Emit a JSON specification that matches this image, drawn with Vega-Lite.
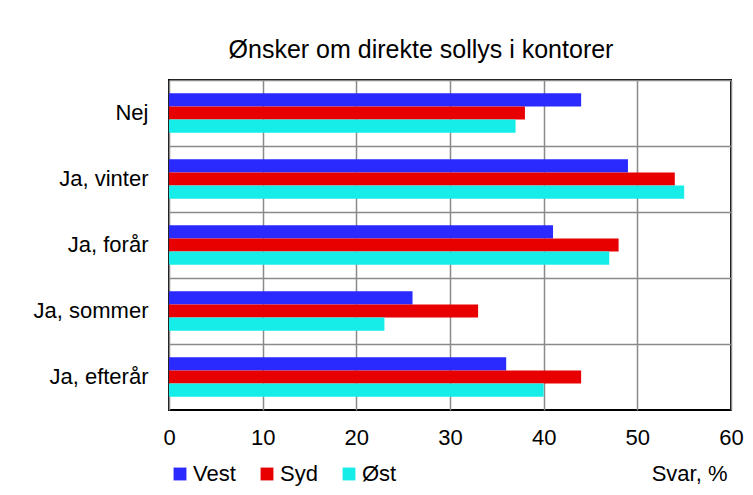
{
  "$schema": "https://vega.github.io/schema/vega-lite/v6.json",
  "autosize": "none",
  "width": 562,
  "height": 330,
  "padding": {"left": 169, "top": 80, "right": 22, "bottom": 85},
  "background": "white",
  "title": {
    "text": "Ønsker om direkte sollys i kontorer",
    "font": "Liberation Sans",
    "fontSize": 25,
    "fontWeight": "normal",
    "color": "black",
    "anchor": "middle",
    "dx": -29,
    "offset": 17
  },
  "data": {
    "values": [
      {"kategori": "Nej", "region": "Vest", "orden": 1, "svar": 44},
      {"kategori": "Nej", "region": "Syd", "orden": 2, "svar": 38},
      {"kategori": "Nej", "region": "Øst", "orden": 3, "svar": 37},
      {"kategori": "Ja, vinter", "region": "Vest", "orden": 1, "svar": 49},
      {"kategori": "Ja, vinter", "region": "Syd", "orden": 2, "svar": 54},
      {"kategori": "Ja, vinter", "region": "Øst", "orden": 3, "svar": 55},
      {"kategori": "Ja, forår", "region": "Vest", "orden": 1, "svar": 41},
      {"kategori": "Ja, forår", "region": "Syd", "orden": 2, "svar": 48},
      {"kategori": "Ja, forår", "region": "Øst", "orden": 3, "svar": 47},
      {"kategori": "Ja, sommer", "region": "Vest", "orden": 1, "svar": 26},
      {"kategori": "Ja, sommer", "region": "Syd", "orden": 2, "svar": 33},
      {"kategori": "Ja, sommer", "region": "Øst", "orden": 3, "svar": 23},
      {"kategori": "Ja, efterår", "region": "Vest", "orden": 1, "svar": 36},
      {"kategori": "Ja, efterår", "region": "Syd", "orden": 2, "svar": 44},
      {"kategori": "Ja, efterår", "region": "Øst", "orden": 3, "svar": 40}
    ]
  },
  "mark": {"type": "bar", "cornerRadius": 0},
  "encoding": {
    "y": {
      "field": "kategori",
      "type": "nominal",
      "sort": ["Nej", "Ja, vinter", "Ja, forår", "Ja, sommer", "Ja, efterår"],
      "scale": {"paddingInner": 0, "paddingOuter": 0},
      "axis": {
        "title": null,
        "domain": false,
        "ticks": false,
        "labelFont": "Liberation Sans",
        "labelFontSize": 22,
        "labelColor": "black",
        "labelPadding": 21,
        "grid": true,
        "gridColor": "#8a8a8a",
        "gridWidth": 1.5,
        "bandPosition": 0
      }
    },
    "yOffset": {
      "field": "region",
      "type": "nominal",
      "sort": ["Vest", "Syd", "Øst"],
      "scale": {"paddingInner": 0, "paddingOuter": 1.25}
    },
    "x": {
      "field": "svar",
      "type": "quantitative",
      "scale": {"domain": [0, 60], "nice": false},
      "axis": {
        "values": [0, 10, 20, 30, 40, 50, 60],
        "title": "Svar, %",
        "titleFont": "Liberation Sans",
        "titleFontSize": 22,
        "titleFontWeight": "normal",
        "titleColor": "black",
        "titleAnchor": "end",
        "titleAlign": "right",
        "titleBaseline": "middle",
        "titleX": 558,
        "titleY": 63,
        "domain": false,
        "ticks": false,
        "labelFlush": false,
        "labelFont": "Liberation Sans",
        "labelFontSize": 22,
        "labelColor": "black",
        "labelPadding": 17,
        "grid": true,
        "gridColor": "#8a8a8a",
        "gridWidth": 1.5
      }
    },
    "color": {
      "field": "region",
      "type": "nominal",
      "sort": ["Vest", "Syd", "Øst"],
      "scale": {"domain": ["Vest", "Syd", "Øst"], "range": ["#2A2AFF", "#E80000", "#17EDE8"]},
      "legend": {
        "title": null,
        "orient": "none",
        "legendX": 0,
        "legendY": 383,
        "direction": "horizontal",
        "symbolType": "square",
        "symbolSize": 165,
        "symbolStrokeWidth": 0,
        "symbolOpacity": 1,
        "labelFont": "Liberation Sans",
        "labelFontSize": 22,
        "labelColor": "black",
        "labelOffset": 2,
        "columnPadding": 20
      }
    }
  },
  "config": {
    "view": {"stroke": "black", "strokeWidth": 2}
  }
}
